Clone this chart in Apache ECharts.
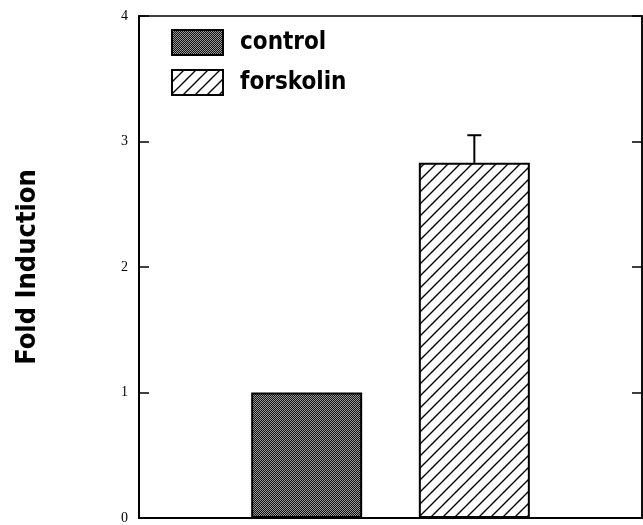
<!DOCTYPE html>
<html>
<head>
<meta charset="utf-8">
<script src="https://cdn.jsdelivr.net/npm/echarts@6/dist/echarts.min.js"></script>
<style>
  html, body { margin: 0; padding: 0; background: #fff; }
  #chart { width: 643px; height: 525px; }
</style>
</head>
<body>
<div id="chart"></div>
<script>
// data
const categories = ['', 'control', 'forskolin', '']
const controlValues = [null, 1.0, null, null]
const forskolinValues = [null, null, 2.83, null]
const errorBars = [[2, 2.83, 3.05]] // [category index, mean, mean + error]
const yTicks = { min: 0, max: 4, interval: 1 }

// fill patterns
function dotPattern() {
  const c = document.createElement('canvas')
  c.width = 2
  c.height = 2
  const ctx = c.getContext('2d')
  ctx.fillStyle = '#111'
  ctx.fillRect(0, 0, 2, 2)
  ctx.fillStyle = '#9a9a9a'
  ctx.fillRect(0, 0, 1, 1)
  ctx.fillRect(1, 1, 1, 1)
  return c
}

function hatchPattern() {
  const s = 12
  const c = document.createElement('canvas')
  c.width = s
  c.height = s
  const ctx = c.getContext('2d')
  ctx.fillStyle = '#fff'
  ctx.fillRect(0, 0, s, s)
  ctx.strokeStyle = '#000'
  ctx.lineWidth = 1.4
  ctx.beginPath()
  ctx.moveTo(-1, s + 1)
  ctx.lineTo(s + 1, -1)
  ctx.moveTo(-1, 1)
  ctx.lineTo(1, -1)
  ctx.moveTo(s - 1, s + 1)
  ctx.lineTo(s + 1, s - 1)
  ctx.stroke()
  return c
}

const chart = echarts.init(document.getElementById('chart'))
chart.setOption({
  animation: false,
  backgroundColor: '#fff',
  grid: {
    left: 139,
    right: 1,
    top: 16,
    bottom: 5,
    show: true,
    borderColor: '#000',
    borderWidth: 1.5
  },
  legend: {
    data: ['control', 'forskolin'],
    orient: 'vertical',
    left: 171,
    top: 29,
    icon: 'rect',
    itemWidth: 51,
    itemHeight: 25,
    itemGap: 13,
    padding: 0,
    textStyle: {
      fontFamily: 'DejaVu Sans Condensed',
      fontWeight: 'bold',
      fontSize: 24,
      color: '#000',
      padding: [0, 0, 0, 12]
    }
  },
  xAxis: {
    type: 'category',
    data: categories,
    boundaryGap: false,
    axisLine: { lineStyle: { color: '#000', width: 2 } },
    axisTick: { show: false },
    axisLabel: { show: false }
  },
  yAxis: [
    {
      type: 'value',
      min: yTicks.min,
      max: yTicks.max,
      interval: yTicks.interval,
      name: 'Fold Induction',
      nameLocation: 'middle',
      nameGap: 98,
      nameRotate: 90,
      nameTextStyle: {
        fontFamily: 'DejaVu Sans Condensed',
        fontWeight: 'bold',
        fontSize: 27,
        color: '#000'
      },
      axisLine: { show: true, lineStyle: { color: '#000', width: 2 } },
      axisTick: { show: true, inside: true, length: 10, lineStyle: { color: '#000', width: 1.5 } },
      axisLabel: { fontFamily: 'Liberation Serif', fontSize: 14, color: '#000', margin: 11 },
      splitLine: { show: false }
    },
    {
      type: 'value',
      position: 'right',
      min: yTicks.min,
      max: yTicks.max,
      interval: yTicks.interval,
      axisLine: { show: true, lineStyle: { color: '#000', width: 1.5 } },
      axisTick: { show: true, inside: true, length: 10, lineStyle: { color: '#000', width: 1.5 } },
      axisLabel: { show: false },
      splitLine: { show: false }
    }
  ],
  series: [
    {
      name: 'control',
      type: 'bar',
      data: controlValues,
      barWidth: 111,
      barGap: '-100%',
      itemStyle: {
        color: { image: dotPattern(), repeat: 'repeat' },
        borderColor: '#000',
        borderWidth: 2
      }
    },
    {
      name: 'forskolin',
      type: 'bar',
      data: forskolinValues,
      barWidth: 111,
      barGap: '-100%',
      itemStyle: {
        color: { image: hatchPattern(), repeat: 'repeat' },
        borderColor: '#000',
        borderWidth: 2
      }
    },
    {
      name: 'error',
      type: 'custom',
      data: errorBars,
      z: 5,
      renderItem: function(params, api) {
        const base = api.coord([api.value(0), api.value(1)])
        const top = api.coord([api.value(0), api.value(2)])
        const half = 7
        return {
          type: 'group',
          children: [
            {
              type: 'line',
              shape: { x1: top[0], y1: base[1], x2: top[0], y2: top[1] },
              style: { stroke: '#000', lineWidth: 2 }
            },
            {
              type: 'line',
              shape: { x1: top[0] - half, y1: top[1], x2: top[0] + half, y2: top[1] },
              style: { stroke: '#000', lineWidth: 2 }
            }
          ]
        }
      }
    }
  ]
})
</script>
</body>
</html>
